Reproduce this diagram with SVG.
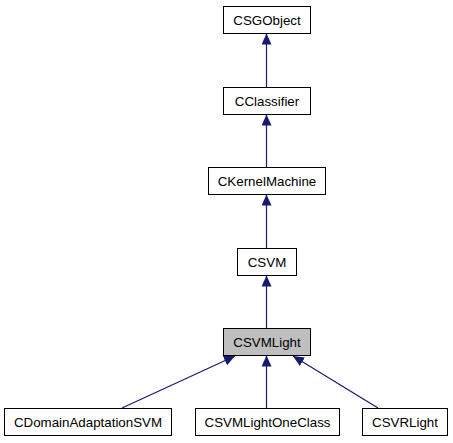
<svg xmlns="http://www.w3.org/2000/svg" width="453" height="443" viewBox="0 0 453 443">
<style>
.box{fill:#ffffff;stroke:#000000;stroke-width:1}
.cur{fill:#bfbfbf;stroke:#000000;stroke-width:1}
.lbl{font-family:"Liberation Sans",Arial,Helvetica,sans-serif;font-size:13.33px;fill:#000000;text-anchor:middle}
.edge{fill:none;stroke:#191970;stroke-width:1.2}
</style>
<defs>
<marker id="arr" markerUnits="userSpaceOnUse" markerWidth="12" markerHeight="11" refX="11" refY="5" orient="auto">
<path d="M0,0 L11,5 L0,10 z" fill="#191970"/>
</marker>
</defs>
<rect width="453" height="443" fill="#ffffff"/>
<g id="edges">
<path class="edge" d="M266.5,88 L266.5,33.5" marker-end="url(#arr)"/>
<path class="edge" d="M266.5,167 L266.5,114.5" marker-end="url(#arr)"/>
<path class="edge" d="M266.5,248 L266.5,194.5" marker-end="url(#arr)"/>
<path class="edge" d="M266.5,328 L266.5,275.5" marker-end="url(#arr)"/>
<path class="edge" d="M122,408 L235,356" marker-end="url(#arr)"/>
<path class="edge" d="M266.5,408 L266.5,355.5" marker-end="url(#arr)"/>
<path class="edge" d="M378,408 L293,356" marker-end="url(#arr)"/>
</g>
<g id="CSGObject">
<rect class="box" x="223.5" y="6.5" width="87" height="27"/>
<text class="lbl" x="267" y="24.5">CSGObject</text>
</g>
<g id="CClassifier">
<rect class="box" x="223.5" y="87.5" width="87" height="27"/>
<text class="lbl" x="267" y="105.5">CClassifier</text>
</g>
<g id="CKernelMachine">
<rect class="box" x="208.5" y="167.5" width="117" height="27"/>
<text class="lbl" x="267" y="185.5">CKernelMachine</text>
</g>
<g id="CSVM">
<rect class="box" x="237.5" y="248.5" width="59" height="27"/>
<text class="lbl" x="267" y="266.5">CSVM</text>
</g>
<g id="CSVMLight">
<rect class="cur" x="223.5" y="328.5" width="87" height="27"/>
<text class="lbl" x="267" y="346.5">CSVMLight</text>
</g>
<g id="CDomainAdaptationSVM">
<rect class="box" x="4.5" y="408.5" width="167" height="27"/>
<text class="lbl" x="88" y="426.5">CDomainAdaptationSVM</text>
</g>
<g id="CSVMLightOneClass">
<rect class="box" x="195.5" y="408.5" width="144" height="27"/>
<text class="lbl" x="267.5" y="426.5">CSVMLightOneClass</text>
</g>
<g id="CSVRLight">
<rect class="box" x="362.5" y="408.5" width="85" height="27"/>
<text class="lbl" x="405" y="426.5">CSVRLight</text>
</g>
</svg>
